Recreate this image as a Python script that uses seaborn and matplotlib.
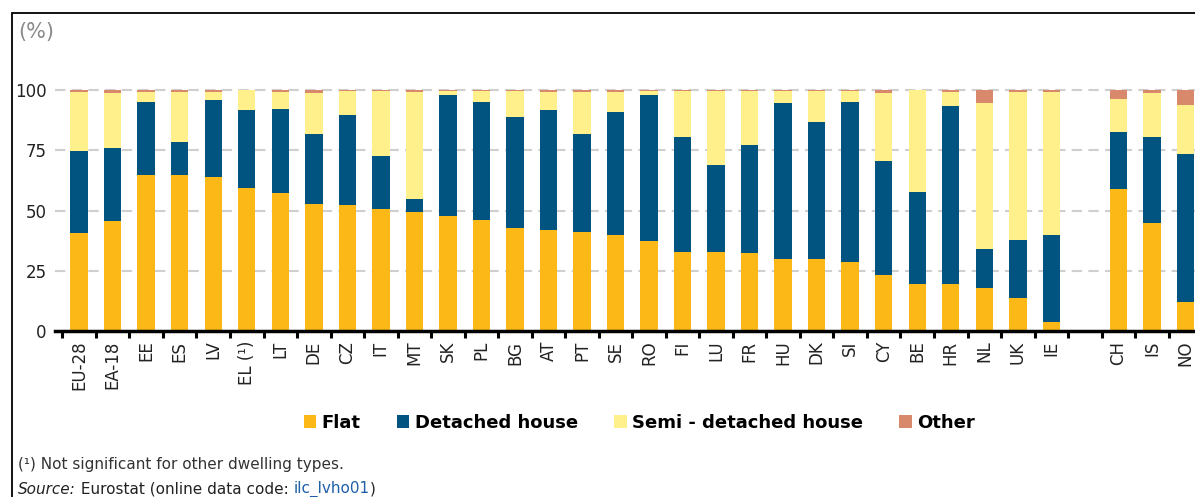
import numpy as np
import pandas as pd
import matplotlib
matplotlib.use("Agg")
import matplotlib.pyplot as plt
from matplotlib.patches import Patch, Rectangle
import seaborn as sns

# datos (porcentaje por tipo de vivienda)
paises = ["EU-28", "EA-18", "EE", "ES", "LV", "EL (¹)", "LT", "DE", "CZ", "IT",
          "MT", "SK", "PL", "BG", "AT", "PT", "SE", "RO", "FI", "LU",
          "FR", "HU", "DK", "SI", "CY", "BE", "HR", "NL", "UK", "IE",
          "CH", "IS", "NO"]
flat = [40.7, 45.6, 64.7, 64.8, 64.0, 59.3, 57.3, 52.9, 52.4, 50.7,
        49.4, 47.8, 46.0, 42.9, 41.8, 40.9, 40.0, 37.4, 32.7, 32.7,
        32.3, 29.7, 29.7, 28.5, 23.3, 19.7, 19.4, 18.0, 13.7, 3.6,
        58.9, 45.0, 12.2]
detached = [34.2, 30.3, 30.2, 13.7, 32.0, 32.4, 34.9, 28.9, 37.3, 21.9,
            5.2, 50.3, 49.1, 46.1, 49.9, 40.9, 50.7, 60.7, 47.8, 36.3,
            45.0, 64.8, 57.0, 66.6, 47.2, 37.9, 74.1, 16.2, 23.9, 36.4,
            23.8, 35.5, 61.1]
semi = [24.4, 22.7, 4.4, 20.8, 3.3, 8.3, 7.1, 16.8, 9.9, 26.8,
        44.7, 1.3, 4.4, 10.4, 7.5, 17.2, 8.5, 1.3, 18.9, 30.4,
        22.1, 5.1, 12.9, 4.5, 28.1, 42.4, 5.8, 60.3, 61.7, 59.3,
        13.4, 18.4, 20.6]
other = [0.7, 1.4, 0.7, 0.7, 0.7, 0.0, 0.7, 1.4, 0.4, 0.6,
         0.7, 0.6, 0.5, 0.6, 0.8, 1.0, 0.8, 0.6, 0.6, 0.6,
         0.6, 0.4, 0.4, 0.4, 1.4, 0.0, 0.7, 5.5, 0.7, 0.7,
         3.9, 1.1, 6.1]

series = ["Flat", "Detached house", "Semi - detached house", "Other"]
colores = ["#FBB817", "#00547F", "#FFF08C", "#D9896B"]

# hueco entre IE y CH (categoria vacia)
orden = paises[:30] + [" "] + paises[30:]

df = pd.DataFrame({"pais": paises, "Flat": flat, "Detached house": detached,
                   "Semi - detached house": semi, "Other": other})
acum = df[series].cumsum(axis=1)
acum["pais"] = df["pais"]

fig = plt.figure(figsize=(11.95, 4.97), dpi=100)
ax = fig.add_axes([55 / 1195, 166 / 497, 0.96, 250.6 / 497])

# se dibuja de arriba hacia abajo para que queden apiladas
for serie, color in reversed(list(zip(series, colores))):
    sns.barplot(data=acum, x="pais", y=serie, order=orden, color=color,
                width=0.52, saturation=1, ax=ax, zorder=2)

ax.set_xlim(-0.72, 33.35)
ax.set_ylim(0, 104)
ax.set_xlabel("")
ax.set_ylabel("")
ax.set_yticks([0, 25, 50, 75, 100])
ax.set_yticklabels(["0", "25", "50", "75", "100"], fontsize=12, color="#222222")
ax.tick_params(axis="y", length=0, pad=6)
for v in [25, 50, 75, 100]:
    ax.axhline(v, color="#CFCFCF", lw=1.5, ls=(0, (5, 3)), zorder=0)

ax.set_xticks(range(len(orden)))
ax.set_xticklabels(orden, rotation=90, fontsize=12, color="#222222")
ax.tick_params(axis="x", which="major", length=0, pad=7)
ax.set_xticks(np.arange(-0.5, len(orden), 1.0), minor=True)
ax.tick_params(axis="x", which="minor", length=5, width=2.2, color="black")

for lado in ["top", "right", "left"]:
    ax.spines[lado].set_visible(False)
ax.spines["bottom"].set_linewidth(2.5)
ax.spines["bottom"].set_color("black")
ax.spines["bottom"].set_zorder(5)

fig.text(18 / 1195, 1 - 32 / 497, "(%)", fontsize=15, color="#8A8A8A", va="center")

manijas = [Patch(facecolor=c, edgecolor="none") for c in colores]
fig.legend(manijas, series, loc="center", bbox_to_anchor=(0.535, 1 - 423 / 497),
           ncol=4, frameon=False, handlelength=0.7, handleheight=0.7,
           handletextpad=0.3, columnspacing=2.0,
           prop={"weight": "bold", "size": 13})

# notas al pie
fig.text(18 / 1195, 1 - 465 / 497, "(¹) Not significant for other dwelling types.",
         fontsize=11, color="#333333", va="center")
t1 = fig.text(18 / 1195, 3 / 497, "Source:", fontsize=11,
              color="#222222", style="italic", va="baseline")
t2 = ax.annotate(" Eurostat (online data code: ", xy=(1, 0), xycoords=t1,
                 va="bottom", fontsize=11, color="#222222", annotation_clip=False)
t3 = ax.annotate("ilc_lvho01", xy=(1, 0), xycoords=t2, va="bottom",
                 fontsize=11, color="#1F5FA8", annotation_clip=False)
ax.annotate(")", xy=(1, 0), xycoords=t3, va="bottom", fontsize=11,
            color="#222222", annotation_clip=False)

# marco negro de la figura
fig.add_artist(Rectangle((12 / 1195, -0.2), 1.5, 1.2 - 13 / 497,
                         transform=fig.transFigure, fill=False,
                         edgecolor="black", lw=1.3))

fig.savefig("out.png", dpi=100)
